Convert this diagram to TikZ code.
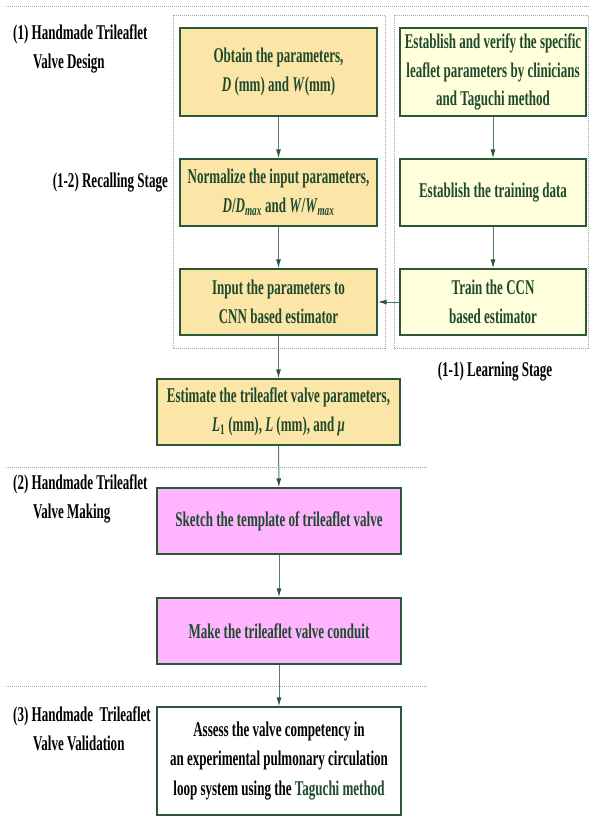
\documentclass[tikz,border=0pt]{standalone}
\usepackage{fontspec}
\setmainfont{Liberation Serif}[FakeStretch=0.62]
\usetikzlibrary{arrows.meta}
\definecolor{boxline}{HTML}{2B5737}
\definecolor{boxtext}{HTML}{1E4A2C}
\definecolor{recallfill}{HTML}{FBE5A7}
\definecolor{learnfill}{HTML}{FFFFDC}
\definecolor{makefill}{HTML}{FFB4FF}
\definecolor{flowline}{HTML}{557F63}

\begin{document}
\begin{tikzpicture}[x=1pt,y=-1pt,
    every node/.style={font=\fontsize{21}{28.5}\selectfont\bfseries},
    stepbox/.style={draw=boxline,line width=1.2pt,text=boxtext,align=center,inner sep=0pt},
    recall/.style={stepbox,fill=recallfill,minimum width=197,minimum height=66},
    learn/.style={stepbox,fill=learnfill,minimum width=186,minimum height=66},
    making/.style={stepbox,fill=makefill,minimum width=244,minimum height=66},
    stagelabel/.style={align=left,anchor=west,inner sep=0pt,text=black},
    flow/.style={draw=flowline,line width=1pt,-{Latex[length=9pt,width=5pt,color=boxline]}},
    sep/.style={draw=gray!70,line width=1pt,dash pattern=on 1pt off 1pt}
   ]
  \useasboundingbox (0,0) rectangle (589,817);

  % separators and stage frames
  \draw[sep] (6,6) -- (589,6);
  \draw[sep] (6,467) -- (428,467);
  \draw[sep] (6,686) -- (428,686);
  \draw[sep] (173,15) rectangle (385,348);
  \draw[sep] (394,15) rectangle (588,348);

  % stage labels
  \node[stagelabel] (design) at (13,49) {(1) Handmade Trileaflet\\\hspace*{20pt}Valve Design};
  \node[stagelabel,anchor=east] (recalling) at (168,183) {(1-2) Recalling Stage};
  \node[stagelabel,anchor=center] (learning) at (495,372) {(1-1) Learning Stage};
  \node[stagelabel] (making) at (13,499) {(2) Handmade Trileaflet\\\hspace*{20pt}Valve Making};
  \node[stagelabel] (validation) at (13,729) {(3) Handmade\ \ Trileaflet\\\hspace*{20pt}Valve Validation};

  % recalling stage
  \node[recall,minimum height=88] (obtain) at (278.5,72)
    {Obtain the parameters,\\\textit{D} (mm) and \textit{W}(mm)};
  \node[recall,minimum height=67] (normalize) at (278.5,192.5)
    {Normalize the input parameters,\\\textit{D}/\textit{D}\textsubscript{\textit{max}} and \textit{W}/\textit{W}\textsubscript{\textit{max}}};
  \node[recall] (input) at (278.5,302)
    {Input the parameters to\\CNN based estimator};

  % learning stage
  \node[learn,minimum height=88] (verify) at (493,72)
    {Establish and verify the specific\\leaflet parameters by clinicians\\and Taguchi method};
  \node[learn,minimum height=67] (training) at (493,192.5)
    {Establish the training data};
  \node[learn] (train) at (493,302)
    {Train the CCN\\based estimator};

  \node[recall,minimum width=243] (estimate) at (278.5,412)
    {Estimate the trileaflet valve parameters,\\\textit{L}\textsubscript{1} (mm), \textit{L} (mm), and \textit{μ}};

  % making and validation
  \node[making] (sketch) at (279,521) {Sketch the template of trileaflet valve};
  \node[making] (make) at (279,631) {Make the trileaflet valve conduit};
  \node[stepbox,fill=white,text=black,minimum width=244,minimum height=108,
        font=\fontsize{21}{29.5}\selectfont\bfseries] (assess) at (279,761)
    {Assess the valve competency in\\an experimental pulmonary circulation\\loop system using the \textcolor{boxtext}{Taguchi method}};

  \draw[flow] (obtain) -- (normalize);
  \draw[flow] (normalize) -- (input);
  \draw[flow] (verify) -- (training);
  \draw[flow] (training) -- (train);
  \draw[flow] (train) -- (input);
  \draw[flow] (input) -- (estimate);
  \draw[flow] (estimate) -- (sketch);
  \draw[flow] (sketch) -- (make);
  \draw[flow] (make) -- (assess);
\end{tikzpicture}
\end{document}
